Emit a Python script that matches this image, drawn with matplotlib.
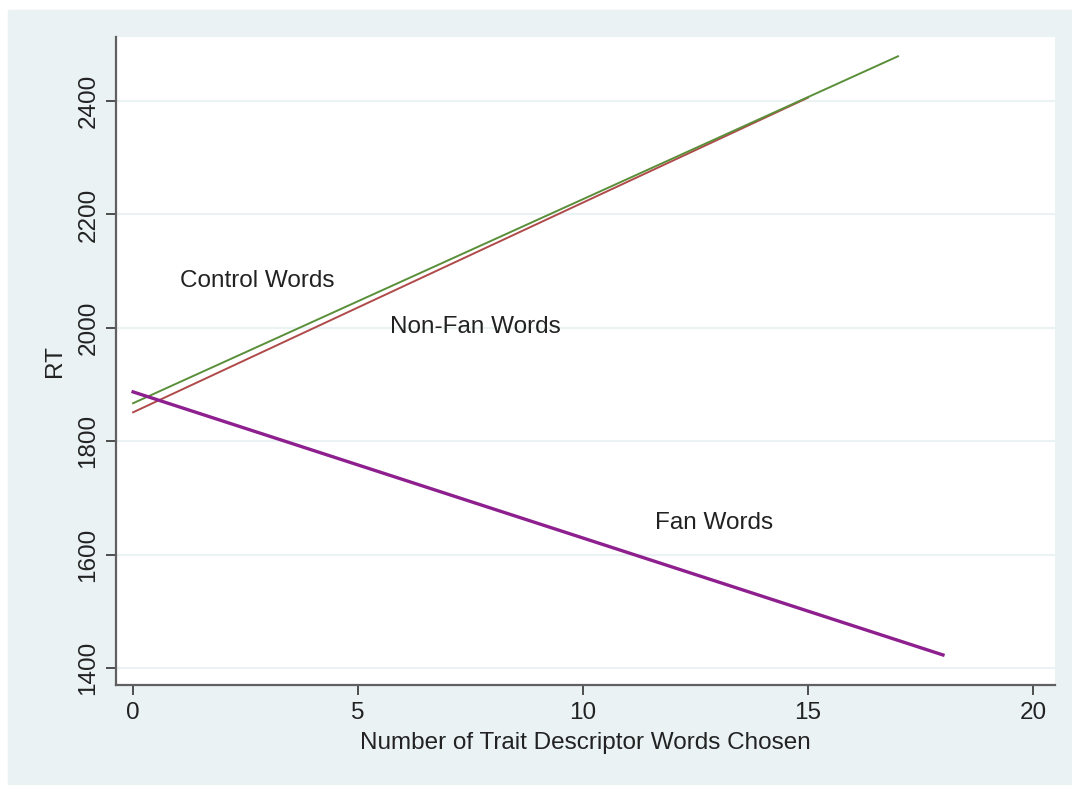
import matplotlib.pyplot as plt
from matplotlib.patches import Rectangle

plt.rcParams['font.family'] = ['Liberation Sans', 'DejaVu Sans']

# fitted lines: (x start, x end), (RT start, RT end)
control_x = [0, 17]
control_y = [1867, 2479]
nonfan_x = [0, 15]
nonfan_y = [1851, 2406]
fan_x = [0, 18]
fan_y = [1887, 1423]

labels = ["Control Words", "Non-Fan Words", "Fan Words"]
label_x = [1.05, 5.7, 11.6]
label_y = [2082, 2001, 1656]

xticks = [0, 5, 10, 15, 20]
yticks = [1400, 1600, 1800, 2000, 2200, 2400]

bg = '#eaf2f3'
fs = 17.5
fig = plt.figure(figsize=(10.72, 7.85), dpi=100)
fig.patches.append(Rectangle((8 / 1072, 0), 1, 1 - 10 / 785,
                             transform=fig.transFigure, color=bg, zorder=-10))

ax = fig.add_axes([116 / 1072, 100 / 785, (1055 - 116) / 1072, (685 - 37) / 785])
ax.set_facecolor('white')

for y in yticks:
    ax.axhline(y, color=bg, lw=1.5, zorder=1)

ax.plot(nonfan_x, nonfan_y, color='#b04a4a', lw=1.4, zorder=3)
ax.plot(control_x, control_y, color='#5a8f3a', lw=1.4, zorder=4)
ax.plot(fan_x, fan_y, color='#8e1f8e', lw=2.4, zorder=5)

for t, x, y in zip(labels, label_x, label_y):
    ax.text(x, y, t, fontsize=fs, color='#222222', va='center', ha='left')

ax.set_xlim(-0.38, 20.49)
ax.set_ylim(1370, 2513)
ax.set_xticks(xticks)
ax.set_yticks(yticks)
ax.set_yticklabels([str(v) for v in yticks], rotation=90, va='center')

for s in ['top', 'right']:
    ax.spines[s].set_visible(False)
for s in ['left', 'bottom']:
    ax.spines[s].set_color('#606060')
    ax.spines[s].set_linewidth(1.6)

ax.tick_params(length=7, width=1.3, color='#404040', labelsize=fs,
               labelcolor='#222222', pad=5)
ax.set_xlabel("Number of Trait Descriptor Words Chosen", fontsize=fs,
              color='#222222', labelpad=6)
ax.set_ylabel("RT", fontsize=fs, color='#222222', labelpad=8)

fig.savefig('out.png', dpi=100, facecolor='white')
